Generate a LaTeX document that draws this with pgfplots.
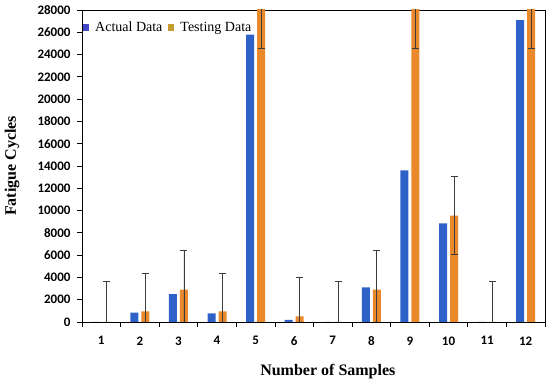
\documentclass[border=0pt]{standalone}
\usepackage{pgfplots}
\pgfplotsset{compat=1.18}
\usepackage{pgfplotstable}
\usepackage{fontspec}
\setmainfont{Liberation Serif}
\newfontfamily\carlito{Carlito}[BoldFont={Carlito Bold}]
\definecolor{actualc}{RGB}{47,98,200}
\definecolor{testc}{RGB}{234,136,44}
\definecolor{testleg}{RGB}{196,156,48}
\definecolor{actleg}{RGB}{64,72,196}
\definecolor{errc}{RGB}{60,60,60}
\pgfplotstableread{
cat actual testing err
1 0 0 3600
2 850 950 3450
3 2500 2900 3550
4 780 950 3450
5 25800 28100 3540
6 200 500 3500
7 0 0 3600
8 3100 2900 3550
9 13600 28100 3540
10 8850 9550 3500
11 0 0 3600
12 27100 28100 3540
}\datatable
\begin{document}
\begin{tikzpicture}
\useasboundingbox (-82pt,-63pt) rectangle (468pt,322pt);
\begin{axis}[
  at={(0pt,0pt)}, anchor=south west,
  scale only axis, width=463pt, height=312pt,
  ybar=3pt, bar width=8pt,
  xmin=0.5, xmax=12.5, ymin=0, ymax=28000,
  xtick={1,...,12}, major x tick style={draw=none},
  minor xtick={0.5,1.5,...,12.5},
  ytick={0,2000,...,28000},
  scaled y ticks=false,
  xtick pos=bottom, ytick pos=left,
  tick align=outside,
  major tick length=5pt, minor tick length=5pt,
  tick style={black, line width=0.8pt},
  axis line style={black, line width=0.9pt},
  /pgf/number format/assume math mode=true,
  /pgf/number format/1000 sep={},
  ticklabel style={font=\carlito\bfseries\fontsize{13}{15}\selectfont},
  xticklabel style={yshift=-6pt},
  yticklabel style={xshift=-3pt},
  xlabel={\bfseries Number of Samples},
  ylabel={\bfseries Fatigue Cycles},
  label style={font=\fontsize{16}{18}\selectfont},
  xlabel style={at={(axis description cs:0.531,-0.160)}, anchor=center},
  ylabel style={at={(axis description cs:-0.151,0.5)}, anchor=center, rotate=0},
  legend style={draw=none, fill=none, at={(axis description cs:0.0,0.972)}, anchor=north west,
    font=\fontsize{14}{16}\selectfont, column sep=4pt, inner sep=1pt},
  legend columns=2,
  clip=true,
]
\addplot[fill=actualc, draw=none,
  legend image code/.code={\fill[actleg] (0pt,-3.5pt) rectangle (6pt,3.5pt);}]
  table[x=cat, y=actual] {\datatable};
\addlegendentry{Actual Data}
\addplot[fill=testc, draw=none,
  legend image code/.code={\fill[testleg] (0pt,-3.5pt) rectangle (6pt,3.5pt);},
  error bars/.cd, y dir=both, y explicit,
  error bar style={errc, line width=0.9pt},
  error mark options={errc, line width=0.9pt, rotate=90, mark size=3.5pt}]
  table[x=cat, y=testing, y error=err] {\datatable};
\addlegendentry{Testing Data}
\end{axis}
\end{tikzpicture}
\end{document}
